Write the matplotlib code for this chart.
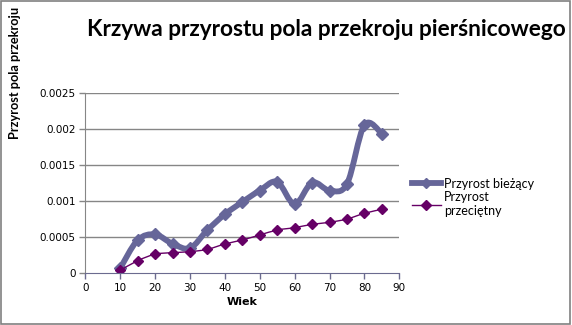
import matplotlib
matplotlib.use("Agg")
import matplotlib.pyplot as plt
from matplotlib.path import Path
from matplotlib.patches import PathPatch, Rectangle
from matplotlib.lines import Line2D
import numpy as np

# ---- data ----
wiek = [10, 15, 20, 25, 30, 35, 40, 45, 50, 55, 60, 65, 70, 75, 80, 85]
przyrost_biezacy = [0.00007, 0.00046, 0.00054, 0.00041, 0.00035, 0.00060, 0.00082, 0.00099,
                    0.00115, 0.00127, 0.00096, 0.00126, 0.00115, 0.00124, 0.00206, 0.00194]
przyrost_przecietny = [0.00004, 0.000175, 0.000265, 0.000287, 0.00030, 0.000333, 0.000407, 0.000463,
                       0.000532, 0.000601, 0.000634, 0.00068, 0.000708, 0.000754, 0.000833, 0.000889]
x_ticks = [0, 10, 20, 30, 40, 50, 60, 70, 80, 90]
y_ticks = [0, 0.0005, 0.001, 0.0015, 0.002, 0.0025]
y_tick_labels = ["0", "0.0005", "0.001", "0.0015", "0.002", "0.0025"]
title = "Krzywa przyrostu pola przekroju pierśnicowego"
x_label = "Wiek"
y_label = "Przyrost pola przekroju"
series_names = ["Przyrost bieżący", "Przyrost\nprzeciętny"]

C1 = "#666699"
C2 = "#660066"
GRID = "#868686"


def smooth_path(xs, ys):
    """Excel-like smoothed line: cubic Bezier segments through the data points."""
    pts = np.column_stack([xs, ys]).astype(float)
    n = len(pts)
    verts = [pts[0]]
    codes = [Path.MOVETO]
    for i in range(n - 1):
        p0 = pts[i - 1] if i > 0 else pts[i]
        p1 = pts[i]
        p2 = pts[i + 1]
        p3 = pts[i + 2] if i + 2 < n else pts[i + 1]
        c1 = p1 + (p2 - p0) / 6.0
        c2 = p2 - (p3 - p1) / 6.0
        verts += [c1, c2, p2]
        codes += [Path.CURVE4] * 3
    return Path(verts, codes)


fig = plt.figure(figsize=(5.72, 3.25), dpi=100)
fig.patch.set_facecolor("white")
ax = fig.add_axes([85.3 / 572, 1 - 273.3 / 325, (399.3 - 85.3) / 572, (273.3 - 93.3) / 325])

ax.set_xlim(0, 90)
ax.set_ylim(0, 0.0025)

for yv in y_ticks[1:]:
    ax.axhline(yv, color=GRID, lw=1.0, zorder=1)

ax.add_patch(PathPatch(smooth_path(wiek, przyrost_biezacy), facecolor="none",
                       edgecolor=C1, lw=4.2, zorder=3, capstyle="round", joinstyle="round"))
ax.plot(wiek, przyrost_biezacy, linestyle="none", marker="D", ms=6.5, color=C1, zorder=4)

ax.add_patch(PathPatch(smooth_path(wiek, przyrost_przecietny), facecolor="none",
                       edgecolor=C2, lw=1.0, zorder=5))
ax.plot(wiek, przyrost_przecietny, linestyle="none", marker="D", ms=5.5, color=C2, zorder=6)

ax.set_xticks(x_ticks)
ax.set_xticklabels([str(v) for v in x_ticks], fontsize=7.5, family="DejaVu Sans")
ax.set_yticks(y_ticks)
ax.set_yticklabels(y_tick_labels, fontsize=7.5, family="DejaVu Sans")
ax.tick_params(axis="both", direction="out", length=4, width=1.0, pad=3)
ax.tick_params(axis="y", colors="black")
ax.tick_params(axis="x", color="#6b6b8f")
ax.tick_params(axis="y", color=GRID)

for s in ["top", "right"]:
    ax.spines[s].set_visible(False)
ax.spines["left"].set_color(GRID)
ax.spines["bottom"].set_color("#6b6b8f")
ax.spines["bottom"].set_zorder(7)

fig.text(0.5 * (86 + 566) / 572, 1 - 30 / 325, title, ha="center", va="center",
         fontsize=16.3, fontweight="bold", family="Lato")
fig.text(242 / 572, 1 - 302 / 325, x_label, ha="center", va="center",
         fontsize=8, fontweight="bold", family="DejaVu Sans")
fig.text(15 / 572, 1 - 139 / 325, y_label, ha="center", va="bottom", rotation=90,
         fontsize=9.2, fontweight="bold", family="Lato")

handles = [Line2D([], [], color=C1, lw=4.2, marker="D", ms=5.5),
           Line2D([], [], color=C2, lw=1.0, marker="D", ms=5.0)]
fig.legend(handles, series_names, loc="upper left", bbox_to_anchor=(403 / 572, 1 - 169 / 325),
           frameon=False, prop={"family": "Lato", "size": 9}, handlelength=2.3,
           handletextpad=0.3, labelspacing=0.1, borderpad=0.2)

fig.add_artist(Rectangle((0.002, 0.004), 0.994, 0.993, transform=fig.transFigure,
                         fill=False, edgecolor="#808080", lw=1.2))

fig.savefig("out.png", dpi=100)
